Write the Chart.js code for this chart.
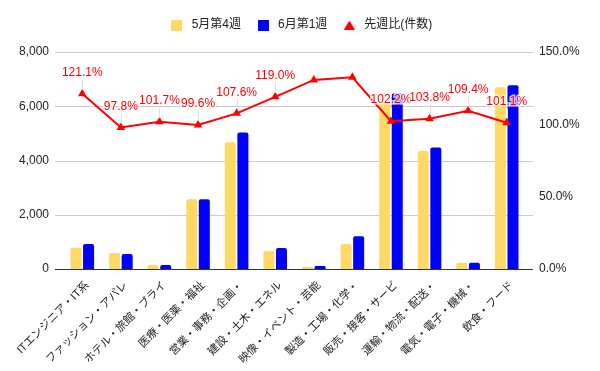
<!DOCTYPE html>
<html>
<head>
<meta charset="utf-8">
<script src="https://cdn.jsdelivr.net/npm/chart.js@4/dist/chart.umd.min.js"></script>
<style>
  html, body { margin: 0; padding: 0; background: #fff; }
  #wrap { width: 600px; height: 371px; }
</style>
</head>
<body>
<div id="wrap"><canvas id="JobChart" width="600" height="371"></canvas></div>
<script>
let categories = [
  "ITエンジニア・IT系",
  "ファッション・アパレ",
  "ホテル・旅館・ブライ",
  "医療・医薬・福祉",
  "営業・事務・企画・",
  "建設・土木・エネル",
  "映像・イベント・芸能",
  "製造・工場・化学・",
  "販売・接客・サービ",
  "運輸・物流・配送・",
  "電気・電子・機械・",
  "飲食・フード",
];
let may4 = [780, 590, 150, 2570, 4670, 660, 70, 920, 6120, 4350, 230, 6700];
let jun1 = [920, 550, 150, 2570, 5030, 770, 110, 1210, 6470, 4480, 230, 6770];
let ratio = [121.1, 97.8, 101.7, 99.6, 107.6, 119.0, 130.7, 132.5, 102.2, 103.8, 109.4, 101.1];
let ratioShown = [true, true, true, true, true, true, false, false, true, true, true, true];
let leftTicks = [0, 2000, 4000, 6000, 8000];
let rightTicks = [0, 50, 100, 150];

const FONT = "'Liberation Sans', Arial, 'Noto Sans CJK JP', sans-serif";
Chart.defaults.font.family = FONT;
Chart.defaults.font.size = 12;
Chart.defaults.color = "#222";

// small legend icons
function makeIcon(color, shape) {
  const c = document.createElement("canvas");
  c.width = 11;
  c.height = shape === "triangle" ? 9 : 11;
  const g = c.getContext("2d");
  g.fillStyle = color;
  if (shape === "triangle") {
    g.beginPath();
    g.moveTo(5.5, 0);
    g.lineTo(11, 9);
    g.lineTo(0, 9);
    g.closePath();
    g.fill();
  } else {
    g.fillRect(0, 0, 11, 11);
  }
  return c;
}
const legendIcons = [
  makeIcon("#ffd966", "rect"),
  makeIcon("#0000ff", "rect"),
  makeIcon("#ff0000", "triangle"),
];

// extra room between the legend and the plot
const legendGap = {
  id: "legendGap",
  afterInit(chart) {
    const lg = chart.legend;
    const fit = lg.fit;
    lg.fit = function () {
      fit.call(this);
      this.height += 11;
    };
  },
};

// horizontal grid lines, a bit wider than the plot area
const gridPlugin = {
  id: "wideGrid",
  beforeDatasetsDraw(chart) {
    const { ctx, chartArea } = chart;
    const y = chart.scales.y;
    ctx.save();
    leftTicks.forEach(function (v) {
      const py = Math.round(y.getPixelForValue(v)) + 0.5;
      ctx.strokeStyle = v === 0 ? "#333" : "#ccc";
      ctx.lineWidth = 1;
      ctx.beginPath();
      ctx.moveTo(chartArea.left - 8, py);
      ctx.lineTo(chartArea.right + 7, py);
      ctx.stroke();
    });
    ctx.restore();
  },
};

// percentage labels above the line points
const ratioLabels = {
  id: "ratioLabels",
  afterDatasetsDraw(chart) {
    const { ctx } = chart;
    const meta = chart.getDatasetMeta(2);
    ctx.save();
    ctx.font = "12px " + FONT;
    ctx.textAlign = "center";
    ctx.textBaseline = "middle";
    meta.data.forEach(function (pt, i) {
      if (!ratioShown[i]) return;
      ctx.strokeStyle = "#ddd";
      ctx.lineWidth = 1;
      ctx.beginPath();
      ctx.moveTo(Math.round(pt.x) + 0.5, pt.y - 4);
      ctx.lineTo(Math.round(pt.x) + 0.5, pt.y - 14);
      ctx.stroke();
      const txt = ratio[i].toFixed(1) + "%";
      ctx.lineWidth = 3;
      ctx.strokeStyle = "rgba(255,255,255,0.75)";
      ctx.strokeText(txt, pt.x, pt.y - 21);
      ctx.fillStyle = "#ff0000";
      ctx.fillText(txt, pt.x, pt.y - 21);
    });
    ctx.restore();
  },
};

new Chart(document.getElementById("JobChart"), {
  type: "bar",
  data: {
    labels: categories,
    datasets: [
      {
        label: "5月第4週",
        data: may4,
        backgroundColor: "#ffd966",
        borderRadius: 2,
        categoryPercentage: 0.65,
        barPercentage: 0.88,
        yAxisID: "y",
        order: 1,
      },
      {
        label: "6月第1週",
        data: jun1,
        backgroundColor: "#0000ff",
        borderRadius: 2,
        categoryPercentage: 0.65,
        barPercentage: 0.88,
        yAxisID: "y",
        order: 1,
      },
      {
        type: "line",
        label: "先週比(件数)",
        data: ratio,
        borderColor: "#ff0000",
        backgroundColor: "#ff0000",
        borderWidth: 2,
        pointStyle: "triangle",
        pointRadius: 3,
        tension: 0,
        yAxisID: "y1",
        order: 0,
      },
    ],
  },
  options: {
    responsive: false,
    animation: false,
    layout: { padding: { top: 6, left: 0, right: 0, bottom: 0 } },
    plugins: {
      legend: {
        display: true,
        position: "top",
        labels: {
          usePointStyle: true,
          pointStyleWidth: 18,
          padding: 13,
          color: "#222",
          font: { size: 12 },
          generateLabels: function (chart) {
            const items = Chart.defaults.plugins.legend.labels.generateLabels(chart);
            items.forEach(function (it) {
              it.pointStyle = legendIcons[it.datasetIndex];
            });
            return items;
          },
          sort: function (a, b) {
            return a.datasetIndex - b.datasetIndex;
          },
        },
      },
      tooltip: { enabled: false },
    },
    scales: {
      x: {
        grid: { display: false },
        border: { display: false },
        ticks: {
          maxRotation: 45,
          minRotation: 45,
          padding: 2,
          labelOffset: 5,
          color: "#222",
          font: { size: 11 },
        },
        afterFit: function (s) {
          s.height = 102;
        },
      },
      y: {
        position: "left",
        min: 0,
        max: 8000,
        grid: { display: false },
        border: { display: false },
        afterBuildTicks: function (s) {
          s.ticks = leftTicks.map(function (v) { return { value: v }; });
        },
        ticks: {
          padding: 6,
          color: "#222",
          callback: function (v) {
            return v.toLocaleString("en-US");
          },
        },
        afterFit: function (s) {
          s.width = 63;
        },
      },
      y1: {
        position: "right",
        min: 0,
        max: 150,
        grid: { display: false },
        border: { display: false },
        afterBuildTicks: function (s) {
          s.ticks = rightTicks.map(function (v) { return { value: v }; });
        },
        ticks: {
          padding: 5,
          color: "#222",
          callback: function (v) {
            return v.toFixed(1) + "%";
          },
        },
        afterFit: function (s) {
          s.width = 74;
        },
      },
    },
  },
  plugins: [legendGap, gridPlugin, ratioLabels],
});
</script>
</body>
</html>
